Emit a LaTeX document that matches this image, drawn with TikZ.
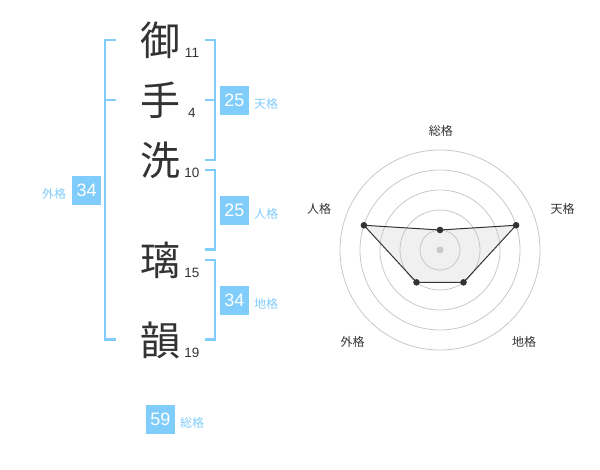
\documentclass[tikz,border=0pt]{standalone}
\usepackage{fontspec}
\setmainfont{Liberation Sans}
\newfontfamily\jpfont{Noto Sans CJK JP}
\definecolor{sky}{RGB}{128,204,250}
\definecolor{ink}{RGB}{51,51,51}
\definecolor{ring}{RGB}{200,200,200}
\definecolor{area}{RGB}{240,240,240}
\begin{document}
\begin{tikzpicture}[x=1pt,y=-1pt,
  kanji/.style={font=\jpfont\fontsize{40}{40}\selectfont, text=ink, inner sep=0pt},
  strokes/.style={font=\fontsize{13.5}{13.5}\selectfont, text=ink, inner sep=0pt},
  numbox/.style={fill=sky, text=white, minimum width=29pt, minimum height=29pt, inner sep=0pt, font=\fontsize{18}{18}\selectfont},
  kaku/.style={font=\jpfont\fontsize{12}{12}\selectfont, text=sky, inner sep=0pt},
  axislabel/.style={font=\jpfont\fontsize{12}{12}\selectfont, text=ink, inner sep=0pt},
  brk/.style={draw=sky, line width=2.1pt},
  ringline/.style={draw=ring, line width=0.8pt},
  vdot/.style={circle, fill=ink, inner sep=0pt, minimum size=6.6pt},
]
\useasboundingbox (0,0) rectangle (600,470);

% characters
\node[kanji] (k1) at (160,40) {御};
\node[kanji] (k2) at (160,100) {手};
\node[kanji] (k3) at (160,160) {洗};
\node[kanji] (k4) at (160,260) {璃};
\node[kanji] (k5) at (160,340) {韻};
\node[strokes] (s1) at (192,53.3) {11};
\node[strokes] (s2) at (192,113) {4};
\node[strokes] (s3) at (192,173) {10};
\node[strokes] (s4) at (192,273) {15};
\node[strokes] (s5) at (192,353) {19};

% brackets
\draw[brk] (116,40) -- (105,40) -- (105,339.5) -- (116,339.5);
\draw[brk] (105,100) -- (116,100);
\draw[brk] (205,40) -- (214.8,40) -- (214.8,160) -- (205,160);
\draw[brk] (205,100) -- (214.8,100);
\draw[brk] (205,170) -- (214.8,170) -- (214.8,249.5) -- (205,249.5);
\draw[brk] (205,260) -- (214.8,260) -- (214.8,339.5) -- (205,339.5);

% boxes and labels
\node[numbox] (ten) at (234.5,100.5) {25};
\node[kaku] (tenl) at (266,104) {天格};
\node[numbox] (jin) at (234.5,210.5) {25};
\node[kaku] (jinl) at (266,214) {人格};
\node[numbox] (chi) at (234.5,300.5) {34};
\node[kaku] (chil) at (266,304) {地格};
\node[numbox] (gai) at (86.7,190.5) {34};
\node[kaku] (gail) at (54,194) {外格};
\node[numbox] (sou) at (160.5,419) {59};
\node[kaku] (soul) at (192.2,422.5) {総格};

% radar chart
\begin{scope}[shift={(440,250)}]
  \coordinate (c) at (0,0);
  \coordinate (p1) at (90:20pt);
  \coordinate (p2) at (18:80pt);
  \coordinate (p3) at (-54:40pt);
  \coordinate (p4) at (-126:40pt);
  \coordinate (p5) at (162:80pt);
  \fill[area] (p1) -- (p2) -- (p3) -- (p4) -- (p5) -- cycle;
  \foreach \r in {20,40,60,80,100} {
    \draw[ringline] (c) circle[radius=\r pt];
  }
  \fill[ring] (c) circle[radius=3.5pt];
  \draw[ink, line width=1pt, line join=round] (p1) -- (p2) -- (p3) -- (p4) -- (p5) -- cycle;
  \foreach \p in {p1,p2,p3,p4,p5} {
    \node[vdot] at (\p) {};
  }
\end{scope}
\node[axislabel] (a1) at (440.8,130.8) {総格};
\node[axislabel] (a2) at (562.5,208.7) {天格};
\node[axislabel] (a3) at (524.2,341.7) {地格};
\node[axislabel] (a4) at (352.5,341.7) {外格};
\node[axislabel] (a5) at (319.2,208.7) {人格};
\end{tikzpicture}
\end{document}
